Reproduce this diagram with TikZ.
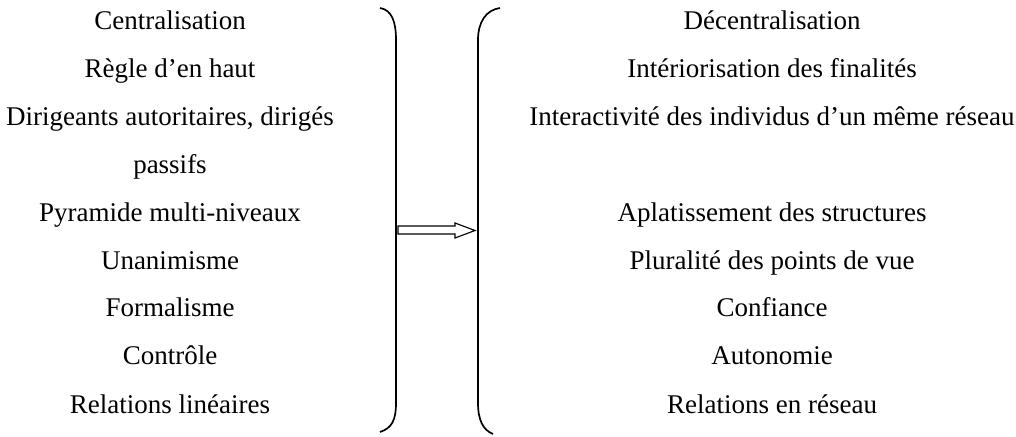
\documentclass[tikz,border=0pt]{standalone}
\usepackage{fontspec}
\setmainfont{Liberation Serif}
\usepackage{tikz}
\newcommand{\rowfont}{\fontsize{19.2}{23}\selectfont}

\begin{document}
\begin{tikzpicture}[x=0.025cm,y=0.025cm,
  row/.style={anchor=base,font=\rowfont},
  brace/.style={line width=1.2pt}]
  \useasboundingbox (0,0) rectangle (1016,436);
  % left column
  \node[row] (l1) at (170,406) {Centralisation};
  \node[row] (l2) at (170,358) {Règle d’en haut};
  \node[row] (l3) at (170,311) {Dirigeants autoritaires, dirigés};
  \node[row] (l4) at (170,263) {passifs};
  \node[row] (l5) at (170,215) {Pyramide multi-niveaux};
  \node[row] (l6) at (170,167) {Unanimisme};
  \node[row] (l7) at (170,120) {Formalisme};
  \node[row] (l8) at (170,72) {Contrôle};
  \node[row] (l9) at (170,23) {Relations linéaires};
  % right column
  \node[row] (r1) at (772,406) {Décentralisation};
  \node[row] (r2) at (772,358) {Intériorisation des finalités};
  \node[row] (r3) at (772,311) {Interactivité des individus d’un même réseau};
  \node[row] (r5) at (772,215) {Aplatissement des structures};
  \node[row] (r6) at (772,167) {Pluralité des points de vue};
  \node[row] (r7) at (772,120) {Confiance};
  \node[row] (r8) at (772,72) {Autonomie};
  \node[row] (r9) at (772,23) {Relations en réseau};
  % brackets
  \draw[brace] (380,428) .. controls (392,426) and (396,414) .. (396,396)
    -- (396,33) .. controls (396,16) and (392,8) .. (380,4);
  \draw[brace] (500,428) .. controls (486,426) and (478,414) .. (478,396)
    -- (478,33) .. controls (478,16) and (483,6) .. (493,2);
  % hollow arrow
  \draw[line width=0.8pt] (398,210) -- (455,210) -- (455,213) -- (475,205.5)
    -- (455,198) -- (455,202) -- (398,202) -- cycle;
\end{tikzpicture}
\end{document}
